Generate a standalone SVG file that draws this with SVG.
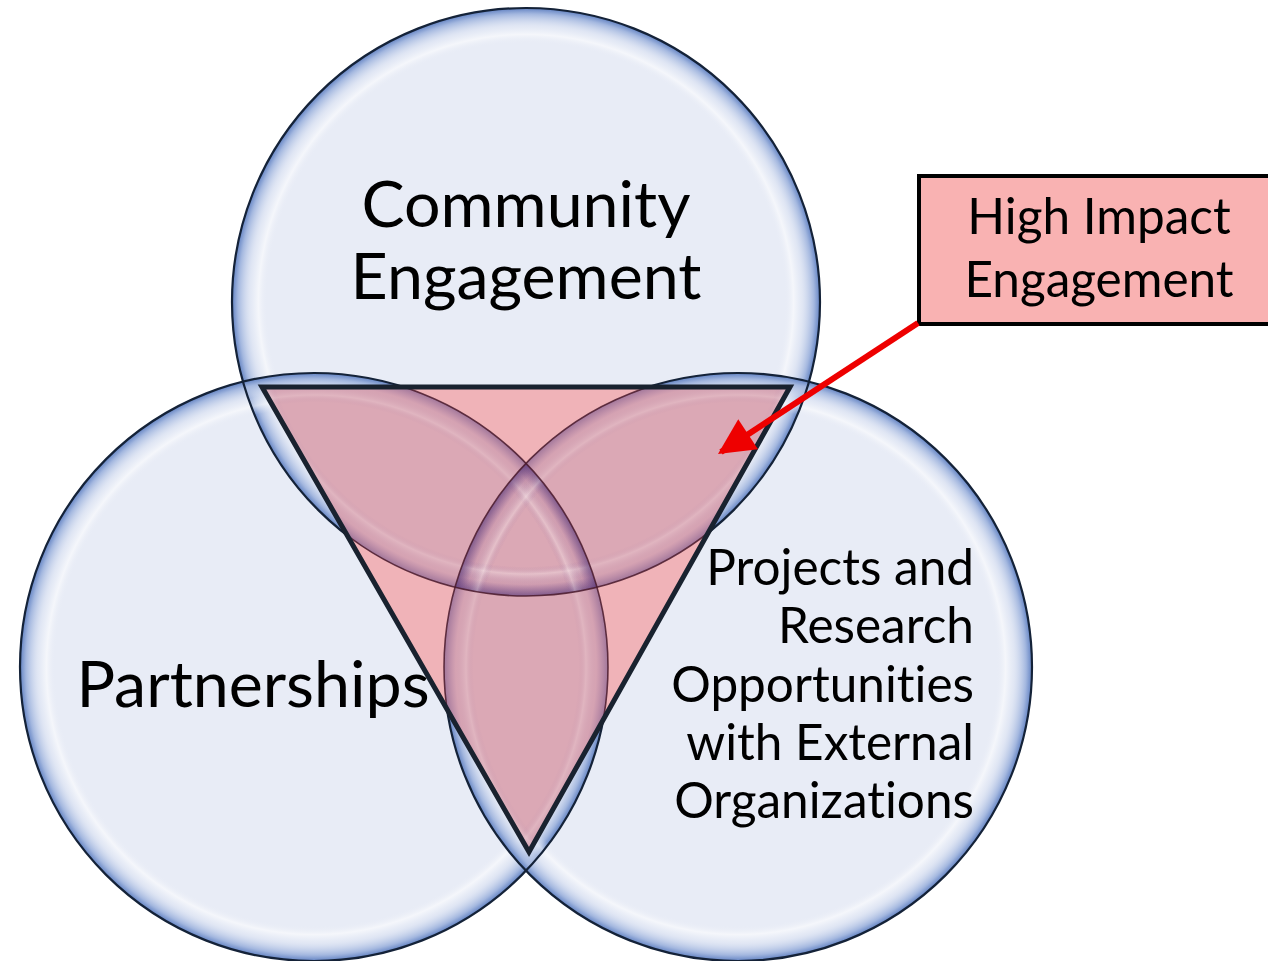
<svg xmlns="http://www.w3.org/2000/svg" width="1268" height="961" viewBox="0 0 1268 961">
<style>
.base{fill:#e8ecf6}
.rim{fill:url(#rimG)}
.edge{fill:none;stroke:#142238;stroke-width:2.2}
.lens{fill:#dba8b5}
.inedge{fill:none;stroke:#4a1a2c;stroke-width:1.6;stroke-opacity:0.85}
.inrim{fill:url(#rimP)}
text{font-family:Lato,"Open Sans","Liberation Sans",sans-serif;fill:#000;font-variant-ligatures:none}
.big{font-size:64.5px}
.mid{font-size:49.5px}
</style>
<defs>
<radialGradient id="rimG" cx="0.5" cy="0.5" r="0.5">
<stop offset="0" stop-color="#e8ecf6" stop-opacity="0"/>
<stop offset="0.88" stop-color="#e8ecf6" stop-opacity="0"/>
<stop offset="0.91" stop-color="#ffffff" stop-opacity="0.55"/>
<stop offset="0.94" stop-color="#d9e1f2" stop-opacity="0.5"/>
<stop offset="0.98" stop-color="#a3b7df" stop-opacity="1"/>
<stop offset="1" stop-color="#6383c3" stop-opacity="1"/>
</radialGradient>
<radialGradient id="rimP" cx="0.5" cy="0.5" r="0.5">
<stop offset="0" stop-color="#7a4e8c" stop-opacity="0"/>
<stop offset="0.9" stop-color="#7a4e8c" stop-opacity="0"/>
<stop offset="0.925" stop-color="#ffffff" stop-opacity="0.15"/>
<stop offset="0.96" stop-color="#7a4e8c" stop-opacity="0.06"/>
<stop offset="1" stop-color="#5a3a7a" stop-opacity="0.45"/>
</radialGradient>
<clipPath id="triClip"><polygon points="262,387 790,387 529,852"/></clipPath>
<clipPath id="cT"><circle cx="526" cy="302" r="294"/></clipPath>
<clipPath id="cL"><circle cx="314" cy="667" r="294"/></clipPath>
<clipPath id="cR"><circle cx="738" cy="667" r="294"/></clipPath>
<marker id="arr" viewBox="0 0 10 10" refX="9" refY="5" markerWidth="7.5" markerHeight="6" markerUnits="strokeWidth" orient="auto">
<path d="M0,0 L10,5 L0,10 z" fill="#ee0000"/>
</marker>
</defs>

<rect width="1268" height="961" fill="#ffffff"/>

<g id="circles">
<g id="circle-community"><circle class="base" cx="526" cy="302" r="294"/></g>
<g id="circle-partnerships"><circle class="base" cx="314" cy="667" r="294"/></g>
<g id="circle-projects"><circle class="base" cx="738" cy="667" r="294"/></g>
<circle class="rim" cx="526" cy="302" r="294"/>
<circle class="rim" cx="314" cy="667" r="294"/>
<circle class="rim" cx="738" cy="667" r="294"/>
<circle class="edge" cx="526" cy="302" r="294"/>
<circle class="edge" cx="314" cy="667" r="294"/>
<circle class="edge" cx="738" cy="667" r="294"/>
</g>

<g id="high-impact-triangle">
<g clip-path="url(#triClip)">
<rect x="250" y="380" width="560" height="480" fill="#f0b3b8"/>
<g clip-path="url(#cL)"><circle class="lens" cx="526" cy="302" r="294"/></g>
<g clip-path="url(#cR)"><circle class="lens" cx="526" cy="302" r="294"/></g>
<g clip-path="url(#cR)"><circle class="lens" cx="314" cy="667" r="294"/></g>
<g clip-path="url(#cL)"><circle class="inrim" cx="526" cy="302" r="294"/></g>
<g clip-path="url(#cR)"><circle class="inrim" cx="526" cy="302" r="294"/></g>
<g clip-path="url(#cT)"><circle class="inrim" cx="314" cy="667" r="294"/></g>
<g clip-path="url(#cR)"><circle class="inrim" cx="314" cy="667" r="294"/></g>
<g clip-path="url(#cT)"><circle class="inrim" cx="738" cy="667" r="294"/></g>
<g clip-path="url(#cL)"><circle class="inrim" cx="738" cy="667" r="294"/></g>
<circle class="inedge" cx="526" cy="302" r="294"/>
<circle class="inedge" cx="314" cy="667" r="294"/>
<circle class="inedge" cx="738" cy="667" r="294"/>
</g>
<polygon points="262,387 790,387 529,852" fill="none" stroke="#19222f" stroke-width="5" stroke-linejoin="miter"/>
</g>

<g id="labels">
<text class="big" x="526" y="227" text-anchor="middle">Community</text>
<text class="big" x="526" y="299" text-anchor="middle">Engagement</text>
<text class="big" x="253" y="707" text-anchor="middle">Partnerships</text>
<text class="mid" x="974" y="585" text-anchor="end">Projects and</text>
<text class="mid" x="974" y="643" text-anchor="end">Research</text>
<text class="mid" x="974" y="702" text-anchor="end">Opportunities</text>
<text class="mid" x="974" y="760" text-anchor="end">with External</text>
<text class="mid" x="974" y="818" text-anchor="end">Organizations</text>
</g>

<g id="high-impact-box">
<rect x="919" y="176" width="352" height="148" fill="#f9b2b2" stroke="#000" stroke-width="4"/>
<text class="mid" x="1099" y="234" text-anchor="middle">High Impact</text>
<text class="mid" x="1099" y="297" text-anchor="middle">Engagement</text>
</g>

<g id="connectors">
<line x1="918" y1="323" x2="721" y2="452" stroke="#ee0000" stroke-width="6" marker-end="url(#arr)"/>
</g>
</svg>
